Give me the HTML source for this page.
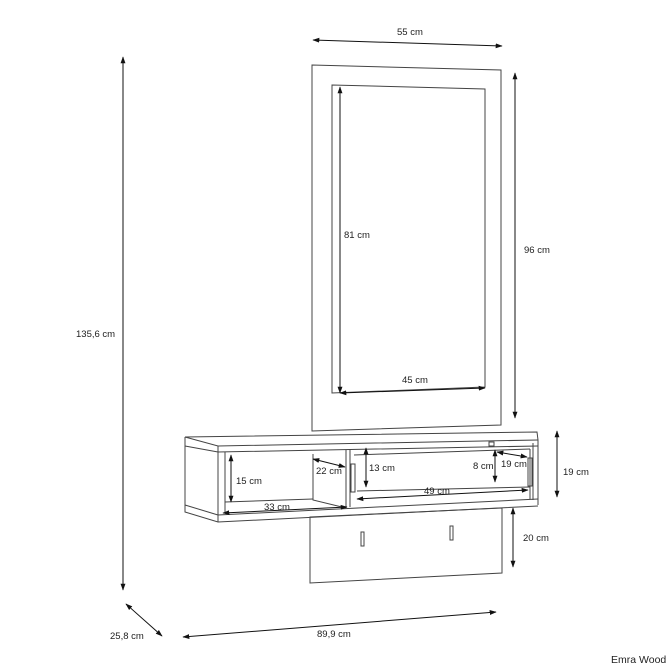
<!DOCTYPE html>
<html><head><meta charset="utf-8"><style>
html,body{margin:0;padding:0;background:#fff;}
svg{display:block;}
text{font-family:"Liberation Sans",sans-serif;font-size:9.5px;fill:#222;}
</style></head><body>
<svg width="667" height="667" viewBox="0 0 667 667" xmlns="http://www.w3.org/2000/svg">
<defs>
<marker id="a" viewBox="0 0 10 10" refX="9" refY="5" markerWidth="7" markerHeight="7" orient="auto-start-reverse"><path d="M0,1.5 L10,5 L0,8.5 Z" fill="#111"/></marker>
</defs>
<g fill="none" stroke="#444" stroke-width="1">
<!-- mirror -->
<polygon points="312,65 501,70 501,425 312,431"/>
<polygon points="332,85 485,89 485,387 332,393"/>
<!-- shelf -->
<polyline points="185,437 537,432 538,440 538,505"/>
<polyline points="185,437 218,446 538,440"/>
<polyline points="218,446 218,452 538,446"/>
<polyline points="185,437 185,512 218,522 538,506"/>
<polyline points="185,446 218,452"/>
<polyline points="185,505 218,515"/>
<line x1="218" y1="515" x2="538" y2="499"/>
<line x1="218" y1="452" x2="218" y2="522"/>
<line x1="225" y1="452" x2="225" y2="513"/>
<line x1="225" y1="502" x2="313" y2="499"/>
<polyline points="313,454 313,500 346,508"/>
<line x1="346" y1="450" x2="346" y2="508"/>
<line x1="350" y1="449" x2="350" y2="507"/>
<polyline points="354,455 530,449"/>
<polyline points="357,491 530,487"/>
<line x1="530" y1="449" x2="530" y2="499"/>
<line x1="533" y1="443" x2="533" y2="500"/>
<rect x="351" y="464" width="4" height="28"/>
<rect x="528" y="458" width="4" height="28"/>
<rect x="489" y="442" width="5" height="4"/>
<!-- hanger panel -->
<polygon points="310,517 502,508 502,573 310,583"/>
<rect x="361" y="532" width="3" height="14"/>
<rect x="450" y="526" width="3" height="14"/>
</g>
<g stroke="#111" stroke-width="1" fill="none" marker-start="url(#a)" marker-end="url(#a)">
<line x1="313" y1="40" x2="502" y2="46"/>
<line x1="515" y1="73" x2="515" y2="418"/>
<line x1="340" y1="87" x2="340" y2="393"/>
<line x1="340" y1="393" x2="485" y2="388"/>
<line x1="123" y1="57" x2="123" y2="590"/>
<line x1="557" y1="431" x2="557" y2="497"/>
<line x1="513" y1="508" x2="513" y2="567"/>
<line x1="126" y1="604" x2="162" y2="636"/>
<line x1="183" y1="637" x2="496" y2="612"/>
<line x1="231" y1="455" x2="231" y2="502"/>
<line x1="223" y1="513" x2="347" y2="507"/>
<line x1="313" y1="459" x2="345" y2="467"/>
<line x1="366" y1="448" x2="366" y2="487"/>
<line x1="495" y1="450" x2="495" y2="482"/>
<line x1="497" y1="452" x2="527" y2="457"/>
<line x1="357" y1="499" x2="528" y2="490"/>
</g>
<text x="397" y="35">55 cm</text>
<text x="524" y="253">96 cm</text>
<text x="344" y="238">81 cm</text>
<text x="402" y="383">45 cm</text>
<text x="76" y="337">135,6 cm</text>
<text x="563" y="475">19 cm</text>
<text x="523" y="541">20 cm</text>
<text x="110" y="639">25,8 cm</text>
<text x="317" y="637">89,9 cm</text>
<text x="236" y="484">15 cm</text>
<text x="264" y="510">33 cm</text>
<text x="316" y="474">22 cm</text>
<text x="369" y="471">13 cm</text>
<text x="473" y="469">8 cm</text>
<text x="501" y="467">19 cm</text>
<text x="424" y="494">49 cm</text>
<text x="611" y="663" style="font-size:10.5px">Emra Wood</text>
</svg>
</body></html>
